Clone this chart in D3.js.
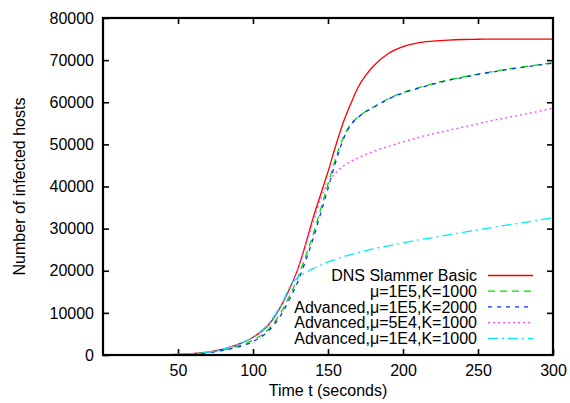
<!DOCTYPE html>
<html><head><meta charset="utf-8">
<script src="https://cdn.jsdelivr.net/npm/d3@7"></script>
<style>
body{margin:0;background:#fff;}
text{font-family:"Liberation Sans",Arial,sans-serif;}
</style></head>
<body><svg id="chart" width="570" height="403"></svg>
<script>
const times = [0,10,20,30,40,50,60,70,80,90,100,110,120,125,130,135,140,145,150,155,160,165,170,175,180,190,200,210,220,230,240,250,260,270,280,290,300];
const basic = [0,0,0,0,50,150,350,700,1400,2500,4200,7000,12500,16200,20500,26200,32500,38000,43500,49500,55000,59500,63500,66300,68500,71500,73200,74100,74500,74750,74900,74950,75000,75000,75000,75000,75000];
const adv1e5k1000 = [0,0,0,0,40,120,300,600,1200,2100,3500,6000,11000,14500,18500,23300,28500,34500,40500,46500,51500,54700,56500,57800,58800,60800,62300,63400,64400,65300,66000,66700,67300,67900,68400,68900,69400];
const adv1e5k2000 = [0,0,0,0,30,100,260,550,1100,1900,3200,5600,10300,13700,17500,22300,27500,33500,39500,45700,51000,54500,56400,57700,58700,60700,62200,63300,64300,65200,65900,66600,67200,67800,68300,68800,69300];
const adv5e4k1000 = [0,0,0,0,50,150,350,700,1400,2500,4200,7000,12500,16200,20500,26000,31500,37000,40800,43200,44800,45900,46800,47600,48300,49500,50600,51600,52500,53300,54100,54900,55700,56400,57100,57800,58600];
const adv1e4k1000 = [0,0,0,0,50,150,350,700,1400,2500,4300,7300,12800,16600,18400,19500,20500,21300,22100,22700,23300,23800,24300,24750,25200,25900,26600,27300,27900,28500,29100,29700,30300,30900,31400,32000,32600];
const seriesNames = ["DNS Slammer Basic","\u03bc=1E5,K=1000","Advanced,\u03bc=1E5,K=2000","Advanced,\u03bc=5E4,K=1000","Advanced,\u03bc=1E4,K=1000"];
const seriesValues = [basic, adv1e5k1000, adv1e5k2000, adv5e4k1000, adv1e4k1000];
const xTicks = [50,100,150,200,250,300];
const yTicks = [0,10000,20000,30000,40000,50000,60000,70000,80000];

const colors = ["#ff0000","#00dd00","#0033ff","#ff44ff","#00eeee"];
const dashes = [null,"7,5","4,5","2,3","10,4,2,4"];

const svg = d3.select("#chart");
const L=103, R=553, T=18, B=355;
const x = d3.scaleLinear().domain([0,300]).range([L,R]);
const y = d3.scaleLinear().domain([0,80000]).range([B,T]);

svg.append("clipPath").attr("id","clip").append("rect").attr("x",L).attr("y",T).attr("width",R-L).attr("height",B-T);

const fs = 16;
const gx = svg.append("g").attr("transform",`translate(0,${B})`)
  .call(d3.axisBottom(x).tickValues(xTicks).tickSize(-6).tickPadding(10).tickFormat(d3.format("d")));
const gxt = svg.append("g").attr("transform",`translate(0,${T})`)
  .call(d3.axisTop(x).tickValues(xTicks.filter(v=>v<300)).tickSize(-6).tickFormat(""));
const gy = svg.append("g").attr("transform",`translate(${L},0)`)
  .call(d3.axisLeft(y).tickValues(yTicks).tickSize(-6).tickPadding(9).tickFormat(d3.format("d")));
const gyr = svg.append("g").attr("transform",`translate(${R},0)`)
  .call(d3.axisRight(y).tickValues(yTicks.filter(v=>v>0&&v<80000)).tickSize(-6).tickFormat(""));
[gx,gxt,gy,gyr].forEach(g=>{
  g.select(".domain").remove();
  g.selectAll(".tick line").attr("stroke","#000").attr("stroke-width",1.6);
  g.selectAll("text").attr("font-size",fs).attr("fill","#000").attr("font-family","Liberation Sans, Arial, sans-serif");
});

const line = d3.line().x((d,i)=>x(times[i])).y(d=>y(d)).curve(d3.curveMonotoneX);
const plot = svg.append("g").attr("clip-path","url(#clip)");
seriesValues.forEach((vals,i)=>{
  plot.append("path").datum(vals).attr("d",line).attr("fill","none")
    .attr("stroke",colors[i]).attr("stroke-width",1.3)
    .attr("stroke-dasharray",dashes[i]);
});

svg.append("rect").attr("x",L).attr("y",T).attr("width",R-L).attr("height",B-T)
  .attr("fill","none").attr("stroke","#000").attr("stroke-width",2.2);

const lg = svg.append("g");
seriesNames.forEach((n,i)=>{
  const yy = 275.5 + i*15.7;
  lg.append("text").attr("x",477).attr("y",yy).attr("dy","0.35em").attr("text-anchor","end")
    .attr("font-size",fs).attr("fill","#000").text(n);
  lg.append("line").attr("x1",488).attr("x2",533).attr("y1",yy).attr("y2",yy)
    .attr("stroke",colors[i]).attr("stroke-width",1.3).attr("stroke-dasharray",dashes[i]);
});

svg.append("text").attr("x",(L+R)/2).attr("y",396).attr("text-anchor","middle")
  .attr("font-size",fs).attr("fill","#000").text("Time t (seconds)");
svg.append("text").attr("transform",`translate(25,${(T+B)/2}) rotate(-90)`).attr("text-anchor","middle")
  .attr("font-size",fs).attr("fill","#000").text("Number of infected hosts");
</script></body></html>
